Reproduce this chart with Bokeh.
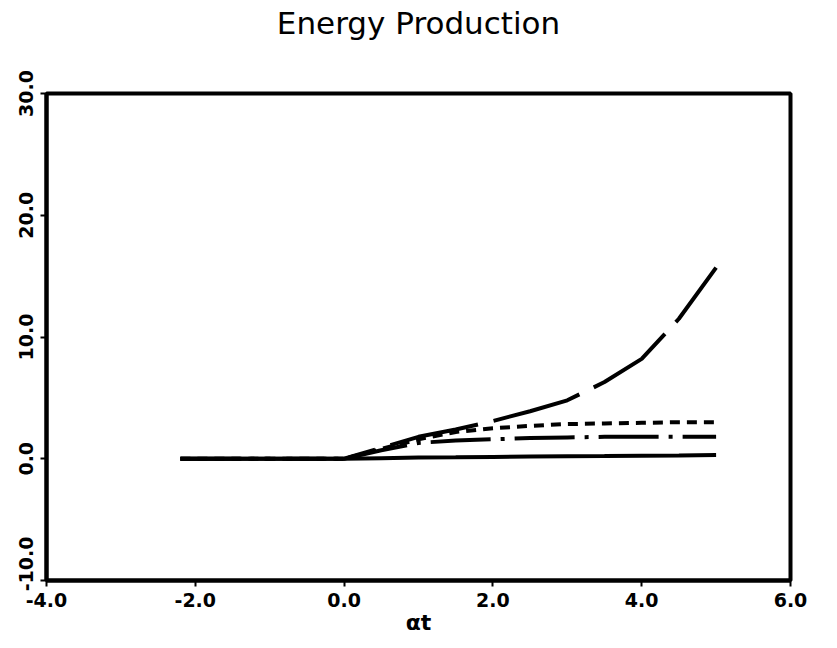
from bokeh.plotting import figure
from bokeh.embed import file_html
from bokeh.resources import INLINE
from bokeh.models import FixedTicker, Range1d, Title

# data
at = [-2.2, -1.0, 0.0, 0.5, 1.0, 1.5, 2.0, 2.5, 3.0, 3.5, 4.0, 4.5, 5.0]
long_dash = [0, 0, 0, 0.9, 1.8, 2.4, 3.1, 3.9, 4.8, 6.3, 8.2, 11.5, 15.7]
short_dash = [0, 0, 0, 0.8, 1.6, 2.2, 2.5, 2.7, 2.85, 2.9, 2.95, 3.0, 3.0]
dash_dot = [0, 0, 0, 0.7, 1.3, 1.5, 1.6, 1.7, 1.75, 1.8, 1.8, 1.8, 1.8]
solid = [0, 0, 0, 0.05, 0.1, 0.12, 0.15, 0.18, 0.2, 0.22, 0.25, 0.27, 0.3]

x_ticks = [-4, -2, 0, 2, 4, 6]
y_ticks = [-10, 0, 10, 20, 30]
x_tick_labels = ["-4.0", "-2.0", "0.0", "2.0", "4.0", "6.0"]
y_tick_labels = ["-10.0", "0.0", "10.0", "20.0", "30.0"]
title_text = "Energy Production"
x_label = "αt"

FONT = "DejaVu Sans"
NBSP = "\u00a0"

p = figure(
    frame_width=744, frame_height=487,
    x_range=Range1d(x_ticks[0], x_ticks[-1]), y_range=Range1d(y_ticks[0], y_ticks[-1]),
    output_backend="svg", toolbar_location=None, title=None,
    min_border_left=46, min_border_right=25, min_border_top=93, min_border_bottom=40,
)

# spacer between frame and title, then the title itself (farther from frame)
p.add_layout(Title(text=" ", text_font_size="1px", standoff=48), "above")
p.add_layout(Title(text=title_text, align="center", text_font=FONT,
                   text_font_size="31px", text_font_style="normal",
                   text_color="black", standoff=4), "above")

p.grid.visible = False
p.outline_line_color = "black"
p.outline_line_width = 4
p.background_fill_color = "white"
p.border_fill_color = "white"

for ax in (p.xaxis[0], p.yaxis[0]):
    ax.axis_line_width = 4
    ax.axis_line_color = "black"
    ax.major_tick_in = 0
    ax.major_tick_out = 6
    ax.major_tick_line_width = 2
    ax.minor_tick_line_color = None
    ax.major_label_text_font = FONT
    ax.major_label_text_font_style = "bold"
    ax.major_label_text_font_size = "19px"
    ax.major_label_text_color = "black"

p.xaxis.ticker = FixedTicker(ticks=x_ticks)
p.xaxis.major_label_overrides = {t: s for t, s in zip(x_ticks, x_tick_labels)}
p.yaxis.ticker = FixedTicker(ticks=y_ticks)
overrides = {t: s for t, s in zip(y_ticks, y_tick_labels)}
# lowest label sits above the corner in the reference: pad it so it shifts up
overrides[y_ticks[0]] = NBSP * 5 + y_tick_labels[0]
p.yaxis.major_label_overrides = overrides
p.yaxis.major_label_orientation = "vertical"
p.yaxis.major_label_standoff = 4
p.xaxis.major_label_standoff = 6

p.xaxis.axis_label = x_label
p.xaxis.axis_label_text_font = FONT
p.xaxis.axis_label_text_font_style = "bold"
p.xaxis.axis_label_text_font_size = "22px"
p.xaxis.axis_label_text_color = "black"
p.xaxis.axis_label_standoff = 0

p.line(at, solid, line_color="black", line_width=4)
p.line(at, dash_dot, line_color="black", line_width=4, line_dash="60 10 4 10")
p.line(at, short_dash, line_color="black", line_width=4, line_dash="10 7")
p.line(at, long_dash, line_color="black", line_width=4, line_dash="90 16")

open("out.html", "w").write(file_html(p, INLINE))
